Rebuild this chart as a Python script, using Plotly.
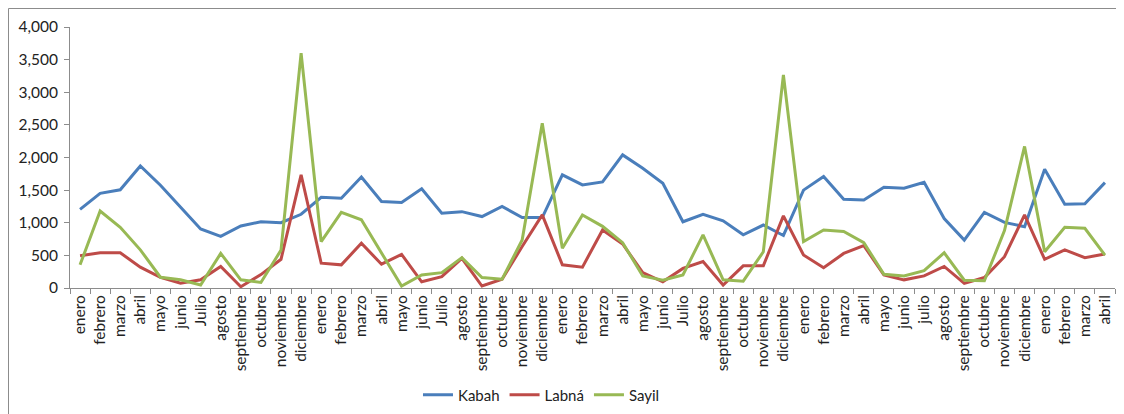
import plotly.graph_objects as go

months = ["enero", "febrero", "marzo", "abril", "mayo", "junio", "Julio", "agosto",
          "septiembre", "octubre", "noviembre", "diciembre"]
months_l = ["enero", "febrero", "marzo", "abril", "mayo", "junio", "julio", "agosto",
            "septiembre", "octubre", "noviembre", "diciembre"]
labels = months * 3 + months_l + ["enero", "febrero", "marzo", "abril"]

kabah = [1205, 1450, 1505, 1870, 1575, 1240, 905, 790, 950, 1015, 1000, 1130,
         1390, 1375, 1700, 1325, 1310, 1520, 1145, 1170, 1095, 1250, 1080, 1080,
         1735, 1580, 1625, 2040, 1835, 1605, 1015, 1130, 1030, 815, 965, 805,
         1500, 1710, 1360, 1350, 1545, 1530, 1620, 1065, 735, 1160, 1005, 940,
         1820, 1285, 1290, 1615]
labna = [495, 540, 540, 320, 165, 75, 125, 330, 20, 205, 440, 1735,
         380, 355, 685, 365, 515, 95, 175, 455, 30, 135, 635, 1120,
         355, 320, 890, 675, 235, 95, 300, 405, 45, 340, 340, 1105,
         505, 310, 530, 650, 200, 125, 185, 330, 70, 160, 480, 1120,
         440, 585, 465, 520]
sayil = [355, 1180, 930, 585, 165, 125, 45, 530, 125, 85, 580, 3600,
         710, 1160, 1045, 530, 30, 200, 235, 465, 160, 135, 735, 2525,
         610, 1120, 945, 695, 185, 120, 200, 815, 125, 105, 555, 3265,
         710, 890, 865, 695, 210, 185, 265, 540, 120, 110, 880, 2170,
         555, 930, 915, 505]

series = [("Kabah", kabah, "#4A7EBB"), ("Labná", labna, "#BE4B48"), ("Sayil", sayil, "#98B954")]
x = list(range(len(labels)))

W, H = 1116, 406
L, T, PW, PH = 62, 19, 1045, 261

fig = go.Figure()
for name, vals, col in series:
    fig.add_trace(go.Scatter(x=x, y=vals, name=name, mode="lines",
                             line=dict(color=col, width=3)))

fig.update_layout(
    width=W, height=H,
    margin=dict(l=L, r=W - L - PW, t=T, b=H - T - PH, autoexpand=False),
    paper_bgcolor="white", plot_bgcolor="white",
    font=dict(family="Lato, Carlito, Calibri, sans-serif", color="#222222"),
    showlegend=True,
    legend=dict(orientation="h", x=0.333, xanchor="left", y=-0.41, yanchor="middle",
                font=dict(size=15), itemwidth=30, tracegroupgap=0),
)
fig.update_xaxes(
    range=[-0.5, len(labels) - 0.5], automargin=False,
    tickmode="array", tickvals=x, ticktext=labels, tickangle=-90,
    tickfont=dict(size=15.5), ticks="", showgrid=False, zeroline=False,
    showline=True, linecolor="#8C8C8C", linewidth=1,
    minor=dict(ticks="outside", tickmode="linear", tick0=-0.5, dtick=1,
               ticklen=5, tickcolor="#8C8C8C", showgrid=False),
)
fig.update_yaxes(
    range=[0, 4000], automargin=False, tickmode="linear", tick0=0, dtick=500, tickformat=",",
    tickfont=dict(size=15.5), ticks="outside", ticklen=5, tickcolor="#8C8C8C",
    ticklabelstandoff=3,
    showgrid=False, zeroline=False, showline=True, linecolor="#8C8C8C", linewidth=1,
)
fig.add_shape(type="rect", xref="paper", yref="paper",
              x0=(0.5 - L) / PW, x1=(1113 - L) / PW,
              y0=(T + PH - (H + 10)) / PH, y1=(T + PH - 0.5) / PH,
              line=dict(color="#8C8C8C", width=1), fillcolor="rgba(0,0,0,0)", layer="below")

fig.write_html("out.html")
